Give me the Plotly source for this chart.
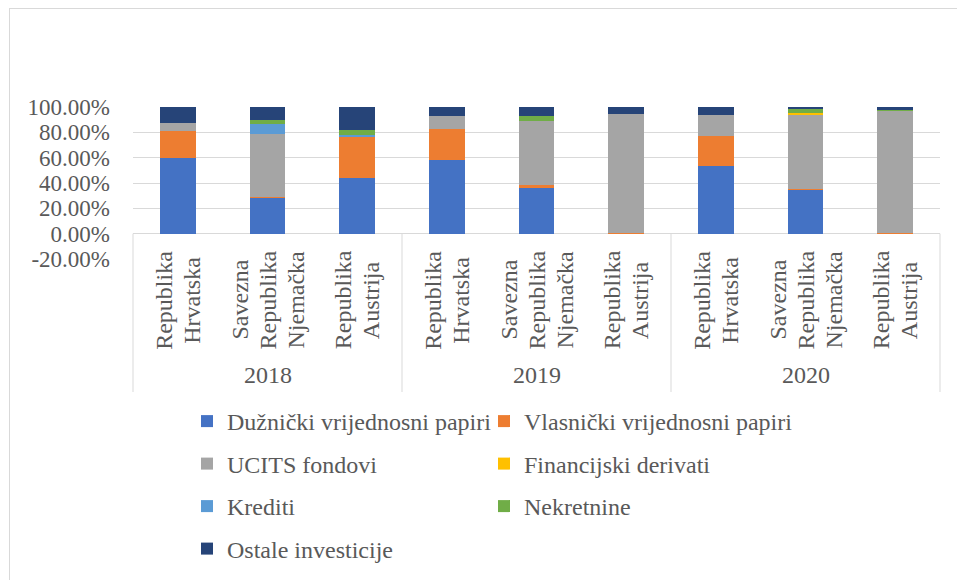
import plotly.graph_objects as go

years = ["2018", "2019", "2020"]
countries = ["Republika<br>Hrvatska", "Savezna<br>Republika<br>Njemačka", "Republika<br>Austrija"]

series_names = [
    "Dužnički vrijednosni papiri",
    "Vlasnički vrijednosni papiri",
    "UCITS fondovi",
    "Financijski derivati",
    "Krediti",
    "Nekretnine",
    "Ostale investicije",
]
# order of values: 2018 HR, DE, AT, 2019 HR, DE, AT, 2020 HR, DE, AT  (fractions)
duznicki = [0.600, 0.284, 0.442, 0.584, 0.363, 0.005, 0.534, 0.345, 0.005]
vlasnicki = [0.213, 0.005, 0.324, 0.240, 0.021, 0.003, 0.237, 0.010, 0.003]
ucits = [0.060, 0.495, 0.000, 0.102, 0.508, 0.940, 0.163, 0.585, 0.963]
derivati = [0.000, 0.000, 0.000, 0.000, 0.000, 0.000, 0.000, 0.010, 0.000]
krediti = [0.000, 0.084, 0.010, 0.000, 0.000, 0.000, 0.000, 0.000, 0.000]
nekretnine = [0.000, 0.029, 0.042, 0.000, 0.034, 0.000, 0.000, 0.039, 0.003]
ostale = [0.127, 0.103, 0.182, 0.074, 0.074, 0.052, 0.066, 0.011, 0.026]

colors = ["#4472C4", "#ED7D31", "#A5A5A5", "#FFC000", "#5B9BD5", "#70AD47", "#264478"]
tick_vals = [-0.2, 0.0, 0.2, 0.4, 0.6, 0.8, 1.0]
tick_text = ["-20.00%", "0.00%", "20.00%", "40.00%", "60.00%", "80.00%", "100.00%"]

series = [duznicki, vlasnicki, ucits, derivati, krediti, nekretnine, ostale]
legend_of = ["legend", "legend2", "legend", "legend2", "legend", "legend2", "legend"]

cats = [f"{y}|{c}" for y in years for c in countries]

FONT = "Liberation Serif"
TXT = "#595959"
GRID = "#D9D9D9"

fig = go.Figure()
for name, vals, col, lg in zip(series_names, series, colors, legend_of):
    fig.add_trace(go.Bar(
        x=cats, y=vals, name=name, marker=dict(color=col, line=dict(width=0)),
        legend=lg, legendgroup=name,
    ))

W, H = 958, 581
L, R, T, B = 133, 18, 107, 322
plot_h = H - T - B
plot_w = W - L - R

def py(pix):  # pixel y -> paper y
    return (H - B - pix) / plot_h

def px(pix):
    return (pix - L) / plot_w

ymin, ymax = tick_vals[0], tick_vals[-1]
zero_paper = (0 - ymin) / (ymax - ymin)

annotations = []
line_gap = 28
for yi, yr in enumerate(years):
    for c in countries:
        lines = c.split("<br>")
        n = len(lines)
        for i, ln in enumerate(lines):
            annotations.append(dict(
                x=f"{yr}|{c}", xref="x", y=py(300), yref="paper",
                text=ln, textangle=-90, showarrow=False,
                xanchor="center", yanchor="middle",
                xshift=(i - (n - 1) / 2) * line_gap,
                font=dict(family=FONT, size=24, color=TXT),
            ))
    annotations.append(dict(
        x=(yi + 0.5) / 3, xref="paper", y=py(375), yref="paper",
        text=yr, showarrow=False, xanchor="center", yanchor="middle",
        font=dict(family=FONT, size=24, color=TXT),
    ))

shapes = []
for k in range(4):
    shapes.append(dict(type="line", xref="paper", yref="paper",
                       x0=k / 3, x1=k / 3, y0=zero_paper, y1=py(392),
                       line=dict(color=GRID, width=1)))
# outer chart border (only top and left edges fall inside the picture)
shapes.append(dict(type="line", xref="paper", yref="paper",
                   x0=px(9), x1=px(957), y0=py(8.5), y1=py(8.5),
                   line=dict(color=GRID, width=1)))
shapes.append(dict(type="line", xref="paper", yref="paper",
                   x0=px(9.5), x1=px(9.5), y0=py(8), y1=py(580),
                   line=dict(color=GRID, width=1)))

fig.update_layout(
    width=W, height=H,
    margin=dict(l=L, r=R, t=T, b=B, pad=0, autoexpand=False),
    barmode="stack", bargap=0.6,
    plot_bgcolor="white", paper_bgcolor="white",
    font=dict(family=FONT, color=TXT, size=24),
    xaxis=dict(type="category", showticklabels=False, showgrid=False,
               showline=False, ticks="", zeroline=False),
    yaxis=dict(range=[ymin, ymax], tickvals=tick_vals, ticktext=tick_text,
               showgrid=True, gridcolor=GRID, gridwidth=1,
               zeroline=True, zerolinecolor=GRID, zerolinewidth=1,
               showline=False, ticks="", ticklabelstandoff=22,
               tickfont=dict(family=FONT, size=23, color=TXT)),
    legend=dict(x=px(187), y=py(399), xanchor="left", yanchor="top",
                orientation="v", tracegroupgap=8.3, bgcolor="rgba(0,0,0,0)",
                font=dict(family=FONT, size=24, color=TXT), itemclick=False),
    legend2=dict(x=px(484), y=py(399), xanchor="left", yanchor="top",
                 orientation="v", tracegroupgap=8.3, bgcolor="rgba(0,0,0,0)",
                 font=dict(family=FONT, size=24, color=TXT), itemclick=False),
    annotations=annotations,
    shapes=shapes,
)

fig.write_html("out.html", config={"displayModeBar": False},
               post_script="document.body.style.margin='0';")
